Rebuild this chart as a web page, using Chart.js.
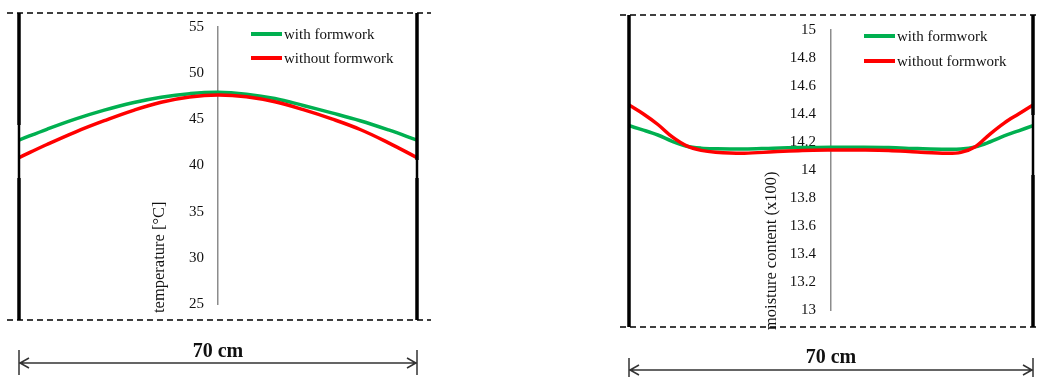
<!DOCTYPE html>
<html><head><meta charset="utf-8">
<script src="https://cdn.jsdelivr.net/npm/chart.js@4.4.1/dist/chart.umd.min.js"></script>
<style>
html,body{margin:0;padding:0;background:#fff;width:1040px;height:377px;overflow:hidden}
.panel{position:absolute;top:0;width:440px;height:377px}
canvas{display:block}
</style></head><body>
<div class="panel" style="left:0"><canvas id="c1" width="440" height="377"></canvas></div>
<div class="panel" style="left:600px"><canvas id="c2" width="440" height="377"></canvas></div>
<script>
// ---- data ----
const seriesNames = ['with formwork', 'without formwork'];
const axisTitles = ['temperature [°C]', 'moisture content (x100)'];
const widthLabel = '70 cm';

const tempPositionsCm = [0, 5, 10, 15, 20, 25, 30, 35, 40, 45, 50, 55, 60, 65, 70];
const tempWith    = [42.75, 43.95, 45.05, 46.0, 46.8, 47.4, 47.78, 47.93, 47.72, 47.25, 46.5, 45.7, 44.85, 43.85, 42.75];
const tempWithout = [40.85, 42.3, 43.65, 44.85, 45.95, 46.85, 47.42, 47.64, 47.45, 46.9, 46.05, 45.05, 43.9, 42.45, 40.85];

const moistPositionsCm = [0, 2.5, 5, 7.5, 10, 12.5, 15, 20, 25, 30, 35, 40, 45, 50, 55, 57.5, 60, 62.5, 65, 67.5, 70];
const moistWith    = [14.316, 14.285, 14.25, 14.205, 14.17, 14.156, 14.152, 14.15, 14.156, 14.16, 14.162, 14.162, 14.16, 14.153, 14.148, 14.15, 14.165, 14.2, 14.243, 14.28, 14.316];
const moistWithout = [14.464, 14.4, 14.325, 14.236, 14.172, 14.14, 14.127, 14.12, 14.13, 14.14, 14.143, 14.143, 14.14, 14.128, 14.119, 14.126, 14.166, 14.255, 14.335, 14.4, 14.464];

const tempTicks  = [25, 30, 35, 40, 45, 50, 55];
const moistTicks = [13, 13.2, 13.4, 13.6, 13.8, 14, 14.2, 14.4, 14.6, 14.8, 15];

// ---- styling ----
const SERIF = "'Liberation Serif', 'Times New Roman', Times, serif";
const GREEN = '#00b050';
const RED = '#ff0000';

const decoPlugin = {
  id: 'deco',
  afterDraw(chart, args, o) {
    const ctx = chart.ctx;
    const xs = chart.scales.x;
    const x0 = xs.getPixelForValue(0), x1 = xs.getPixelForValue(70);
    const xc = xs.getPixelForValue(35);
    ctx.save();
    // axis title
    ctx.save();
    ctx.translate(o.titleX, o.titleY);
    ctx.rotate(-Math.PI / 2);
    ctx.font = '16.5px ' + SERIF;
    ctx.fillStyle = '#111';
    ctx.textAlign = 'left';
    ctx.textBaseline = 'middle';
    ctx.fillText(o.title, 0, 0);
    ctx.restore();
    // dashed frame lines
    ctx.strokeStyle = '#000';
    ctx.lineWidth = 1.6;
    ctx.setLineDash([6, 4]);
    [o.dashTop, o.dashBottom].forEach(y => {
      ctx.beginPath(); ctx.moveTo(o.dashX0, y); ctx.lineTo(o.dashX1, y); ctx.stroke();
    });
    ctx.setLineDash([]);
    // thick vertical walls
    const wall = (x, thin) => {
      ctx.fillStyle = '#000';
      if (thin) {
        ctx.fillRect(x - 1.75, o.dashTop, 3.5, thin[0] - o.dashTop);
        ctx.fillRect(x - 1.25, thin[0], 2.5, thin[1] - thin[0]);
        ctx.fillRect(x - 1.75, thin[1], 3.5, o.dashBottom - thin[1]);
      } else {
        ctx.fillRect(x - 1.75, o.dashTop, 3.5, o.dashBottom - o.dashTop);
      }
    };
    wall(x0, o.thinLeft);
    wall(x1, o.thinRight);
    // legend
    ctx.lineWidth = 4;
    ctx.font = '15px ' + SERIF;
    ctx.textAlign = 'left';
    ctx.textBaseline = 'middle';
    [[GREEN, o.legendY0, seriesNames[0]], [RED, o.legendY1, seriesNames[1]]].forEach(([c, y, t]) => {
      ctx.strokeStyle = c;
      ctx.beginPath(); ctx.moveTo(o.legendX, y); ctx.lineTo(o.legendX + 31, y); ctx.stroke();
      ctx.fillStyle = '#111';
      ctx.fillText(t, o.legendX + 33, y + 1);
    });
    // dimension arrow
    ctx.strokeStyle = '#333';
    ctx.lineWidth = 1.5;
    const ay = o.arrowY;
    ctx.beginPath();
    ctx.moveTo(x0, ay); ctx.lineTo(x1, ay);
    ctx.moveTo(x0 + 10, ay - 5); ctx.lineTo(x0 + 1, ay); ctx.lineTo(x0 + 10, ay + 5);
    ctx.moveTo(x1 - 10, ay - 5); ctx.lineTo(x1 - 1, ay); ctx.lineTo(x1 - 10, ay + 5);
    ctx.moveTo(x0, o.tickTop); ctx.lineTo(x0, o.tickBottom);
    ctx.moveTo(x1, o.tickTop); ctx.lineTo(x1, o.tickBottom);
    ctx.stroke();
    ctx.font = 'bold 20px ' + SERIF;
    ctx.fillStyle = '#111';
    ctx.textAlign = 'center';
    ctx.textBaseline = 'middle';
    ctx.fillText(widthLabel, xc, o.textY);
    ctx.restore();
  }
};

function makeChart(id, xsData, withData, withoutData, yMin, yMax, ticks, padding, deco, labelPos, tension) {
  const common = { pointRadius: 0, borderWidth: 3.5, yAxisID: 'y', tension };
  return new Chart(document.getElementById(id), {
    type: 'line',
    data: {
      datasets: [
        Object.assign({ label: seriesNames[0], data: xsData.map((x, i) => ({x, y: withData[i]})), borderColor: GREEN, order: 1 }, common),
        Object.assign({ label: seriesNames[1], data: xsData.map((x, i) => ({x, y: withoutData[i]})), borderColor: RED, order: 0 }, common)
      ]
    },
    options: {
      responsive: false,
      animation: false,
      devicePixelRatio: 1,
      layout: { padding },
      plugins: { legend: { display: false }, tooltip: { enabled: false }, deco },
      scales: {
        x: { type: 'linear', min: 0, max: 70, display: false },
        y: {
          type: 'linear', min: yMin, max: yMax, position: { x: 35 },
          ticks: { display: false },
          grid: { display: false, drawTicks: false },
          border: { display: true, color: '#8c8c8c', width: 1.5 }
        },
        yLabels: {
          type: 'linear', axis: 'y', min: yMin, max: yMax, position: { x: labelPos },
          afterBuildTicks: s => { s.ticks = ticks.map(v => ({ value: v })); },
          ticks: { font: { family: SERIF, size: 15 }, color: '#111', padding: 0, callback: v => String(v) },
          grid: { display: false, drawTicks: false },
          border: { display: false }
        }
      }
    },
    plugins: [decoPlugin]
  });
}

makeChart('c1', tempPositionsCm, tempWith, tempWithout, 25, 55, tempTicks,
  { left: 19, right: 23, top: 27, bottom: 73 },
  { title: axisTitles[0], titleX: 160, titleY: 313, dashTop: 13, dashBottom: 320, dashX0: 7, dashX1: 431,
    thinLeft: [125, 178], thinRight: [160, 178], legendX: 251, legendY0: 34, legendY1: 58,
    arrowY: 363, tickTop: 350, tickBottom: 375, textY: 352 }, 32.55, 0.4);

makeChart('c2', moistPositionsCm, moistWith, moistWithout, 13, 15, moistTicks,
  { left: 29, right: 7, top: 30, bottom: 67 },
  { title: axisTitles[1], titleX: 172, titleY: 330, dashTop: 15, dashBottom: 327, dashX0: 20, dashX1: 437,
    thinLeft: null, thinRight: [115, 175], legendX: 264, legendY0: 36, legendY1: 61,
    arrowY: 370, tickTop: 358, tickBottom: 377, textY: 358 }, 32.4, 0.35);
</script>
</body></html>
